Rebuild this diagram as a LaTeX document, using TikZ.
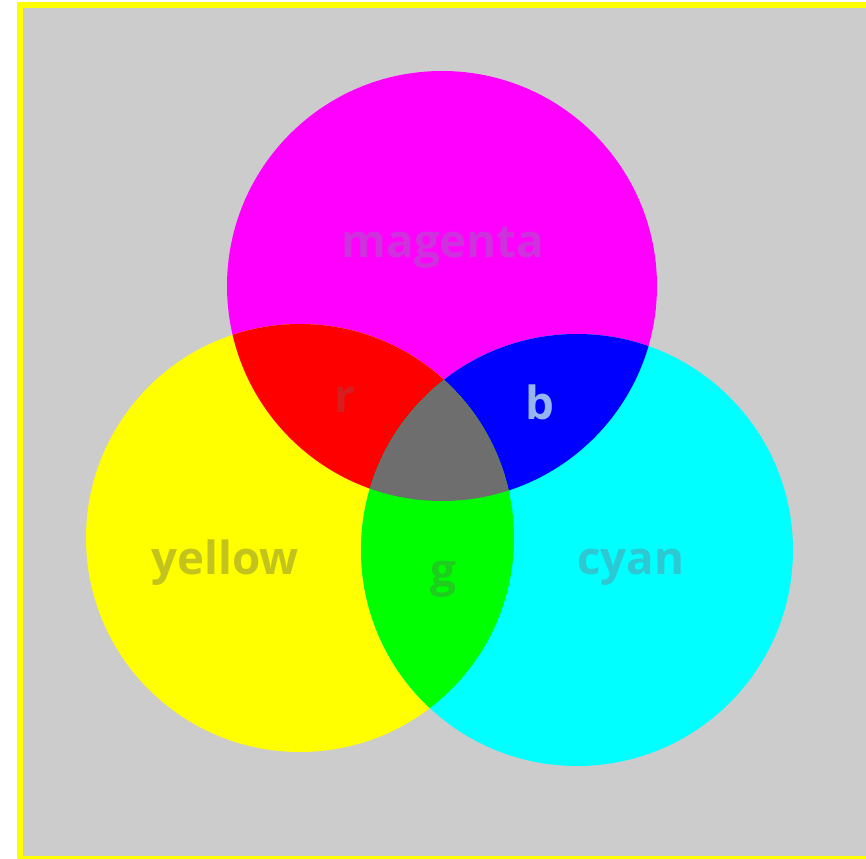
\documentclass[tikz,border=0pt]{standalone}
\usepackage{fontspec}
\setmainfont{Open Sans}
\definecolor{framey}{RGB}{255,255,0}
\definecolor{bggray}{RGB}{204,204,204}
\definecolor{cmag}{RGB}{255,0,255}
\definecolor{cyel}{RGB}{255,255,0}
\definecolor{ccya}{RGB}{0,255,255}
\definecolor{cred}{RGB}{255,0,0}
\definecolor{cblu}{RGB}{0,0,255}
\definecolor{cgrn}{RGB}{0,255,0}
\definecolor{cmid}{RGB}{110,110,110}
\usetikzlibrary{positioning}

\begin{document}
\begin{tikzpicture}[x=0.02cm,y=0.02cm,
  lbl/.style={anchor=base,inner sep=0pt,font=\fontsize{26}{26}\selectfont\bfseries}]

  \useasboundingbox (0,0) rectangle (866,859);
  % frame and background
  \fill[white] (0,0) rectangle (866,859);
  \fill[framey] (17,0) rectangle (866,857);
  \fill[bggray] (23,2.5) rectangle (866,851);

  \coordinate (mc) at (442,573);
  \coordinate (yc) at (300,321);
  \coordinate (cc) at (577,309);

  % the three discs
  \fill[cmag] (mc) circle (215);
  \fill[cyel] (yc) circle (214);
  \fill[ccya] (cc) circle (216);

  % two-way overlaps
  \begin{scope}
    \clip (mc) circle (215);
    \fill[cred] (yc) circle (214);
    \fill[cblu] (cc) circle (216);
  \end{scope}
  \begin{scope}
    \clip (yc) circle (214);
    \fill[cgrn] (cc) circle (216);
  \end{scope}
  % all three
  \begin{scope}
    \clip (mc) circle (215);
    \clip (yc) circle (214);
    \fill[cmid] (cc) circle (216);
  \end{scope}

  % labels
  \node[lbl,text={rgb,255:red,205;green,50;blue,220}] (lmag) at (443,601) {magenta};
  \node[lbl,text={rgb,255:red,215;green,30;blue,30}] (lr) at (345,446) {r};
  \node[lbl,text={rgb,255:red,150;green,180;blue,240}] (lb) at (540,439) {b};
  \node[lbl,text={rgb,255:red,195;green,195;blue,30}] (lyel) at (225,284) {yellow};
  \node[lbl,text={rgb,255:red,30;green,205;blue,30}] (lg) at (443,272) {g};
  \node[lbl,text={rgb,255:red,45;green,200;blue,210}] (lcya) at (631,284) {cyan};

\end{tikzpicture}
\end{document}
